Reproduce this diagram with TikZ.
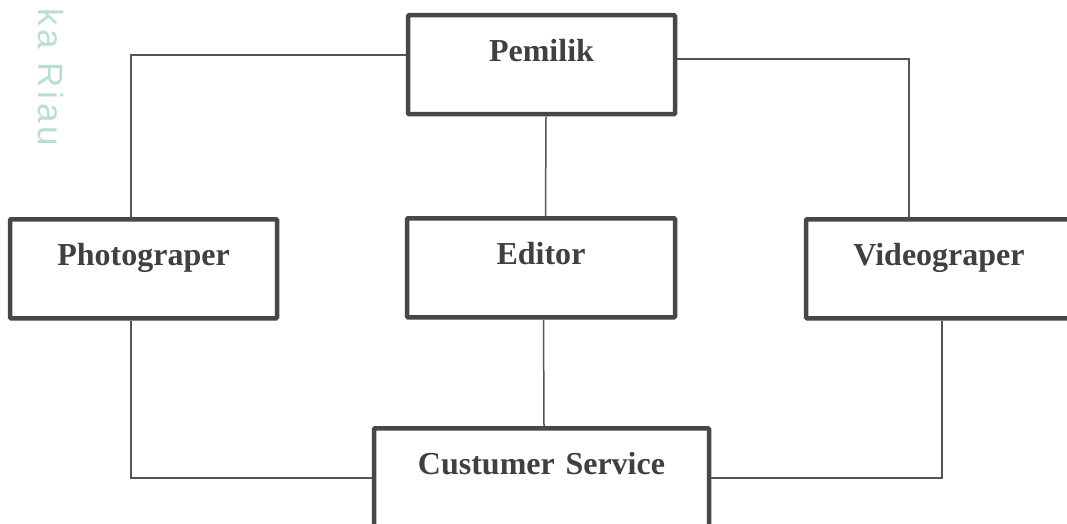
\documentclass[tikz,border=0pt]{standalone}
\usepackage{fontspec}
\setmainfont{Liberation Serif}
\newfontfamily\wmfont[LetterSpace=11]{Liberation Sans}
\definecolor{boxline}{HTML}{474747}
\definecolor{boxtext}{HTML}{404040}
\definecolor{conn}{HTML}{555555}
\definecolor{wmcol}{HTML}{BADDD6}
\tikzset{
  orgbox/.style={draw=boxline, line width=4.5pt, rounded corners=1pt, fill=white,
    inner sep=0pt, align=center, text=boxtext,
    font=\fontsize{32}{38}\selectfont\bfseries,
    text height=46pt, text depth=53pt},
  link/.style={draw=conn, line width=1.5pt}
}
\begin{document}
\begin{tikzpicture}[x=1pt,y=-1pt]
\useasboundingbox (0,0) rectangle (1067,524);
\clip (0,0) rectangle (1067,524);
\node[anchor=base west, rotate=-90, inner sep=0pt, text=wmcol,
  font=\wmfont\fontsize{35}{40}\selectfont] (wm) at (38,8) {ka Riau};
% boxes
\node[orgbox, text width=267pt, anchor=north] (pem) at (541.5,13) {Pemilik};
\node[orgbox, text width=267pt, anchor=north] (pho) at (143.5,217) {Photograper};
\node[orgbox, text width=268pt, anchor=north] (edi) at (541,216) {Editor};
\node[orgbox, text width=266pt, anchor=north] (vid) at (939,217) {Videograper};
\node[orgbox, text width=335pt, anchor=north] (cs) at (541.5,426) {Custumer Service};
% connectors
\draw[link] ([yshift=9.5pt]pem.west) -| ([xshift=-12.5pt]pho.north);
\draw[link] ([yshift=5.5pt]pem.east) -| ([xshift=-30pt]vid.north);
\draw[link] ([xshift=4.5pt]pem.south) -- ([xshift=4.5pt]edi.north);
\draw[link] ([xshift=2.5pt]edi.south) -- ([xshift=2.5pt]cs.north);
\draw[link] ([xshift=-12.5pt]pho.south) |- (cs.west);
\draw[link] ([xshift=3pt]vid.south) |- (cs.east);
\end{tikzpicture}
\end{document}
